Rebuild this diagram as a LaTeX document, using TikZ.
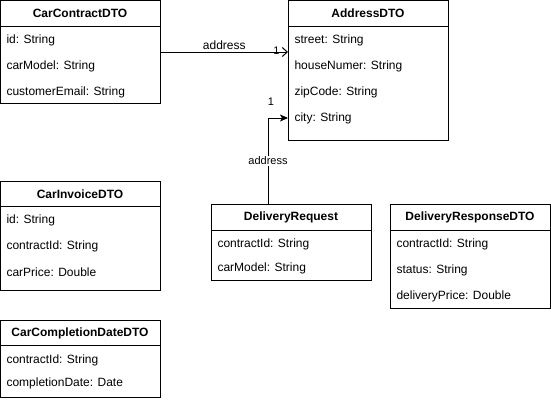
\documentclass[tikz,border=0pt]{standalone}
\usepackage{fontspec}
\setmainfont{Liberation Sans}
\usetikzlibrary{arrows.meta}
\begin{document}
\begin{tikzpicture}[x=1pt,y=-1pt, line width=1pt,
  cls/.style={draw, anchor=north west, minimum width=160pt, inner sep=0pt, outer sep=0pt},
  hdr/.style={font=\fontsize{12}{14}\selectfont\bfseries, anchor=center, inner sep=0pt},
  fld/.style={font=\fontsize{12}{14}\selectfont, anchor=west, inner sep=0pt},
  lbl/.style={font=\fontsize{11}{13}\selectfont, inner sep=1pt}]
\useasboundingbox (0,0) rectangle (551,402);
% CarContractDTO
\node[cls, minimum height=103pt] (cc) at (0.5,0.5) {};
\draw (cc.north west) ++(0,26) -- ++(160,0);
\node[hdr] (cch) at (80,13) {CarContractDTO};
\node[fld] (cc1) at (6,40) {id: String};
\node[fld] (cc2) at (6,66) {carModel: String};
\node[fld] (cc3) at (6,92) {customerEmail: String};
% AddressDTO
\node[cls, minimum height=140pt] (ad) at (288,0.5) {};
\draw (ad.north west) ++(0,26) -- ++(160,0);
\node[hdr] (adh) at (368,13) {AddressDTO};
\node[fld] (ad1) at (294,40) {street: String};
\node[fld] (ad2) at (294,66) {houseNumer: String};
\node[fld] (ad3) at (294,92) {zipCode: String};
\node[fld] (ad4) at (294,118) {city: String};
% CarInvoiceDTO
\node[cls, minimum height=109pt] (ci) at (0.5,181) {};
\draw (ci.north west) ++(0,25) -- ++(160,0);
\node[hdr] (cih) at (80,194) {CarInvoiceDTO};
\node[fld] (ci1) at (6,220) {id: String};
\node[fld] (ci2) at (6,246) {contractId: String};
\node[fld] (ci3) at (6,272) {carPrice: Double};
% CarCompletionDateDTO
\node[cls, minimum height=77pt] (cd) at (0.5,320) {};
\draw (cd.north west) ++(0,25) -- ++(160,0);
\node[hdr] (cdh) at (80,333) {CarCompletionDateDTO};
\node[fld] (cd1) at (6,360) {contractId: String};
\node[fld] (cd2) at (6,383) {completionDate: Date};
% DeliveryRequest
\node[cls, minimum height=76pt] (dr) at (211,204) {};
\draw (dr.north west) ++(0,26) -- ++(160,0);
\node[hdr] (drh) at (291,217) {DeliveryRequest};
\node[fld] (dr1) at (217,244) {contractId: String};
\node[fld] (dr2) at (217,268) {carModel: String};
% DeliveryResponseDTO
\node[cls, minimum height=104pt] (ds) at (390,204) {};
\draw (ds.north west) ++(0,26) -- ++(160,0);
\node[hdr] (dsh) at (470,217) {DeliveryResponseDTO};
\node[fld] (ds1) at (396,244) {contractId: String};
\node[fld] (ds2) at (396,270) {status: String};
\node[fld] (ds3) at (396,296) {deliveryPrice: Double};
% connectors
\draw[-{Straight Barb[length=5pt,width=9pt]}] (cc.east) -- (cc.east -| ad.west)
  node[pos=0.5, anchor=south, font=\fontsize{12}{14}\selectfont, inner sep=2pt] {address}
  node[pos=1, anchor=south east, xshift=-7pt, yshift=-4pt, lbl] {1};
\draw[-{Stealth[length=8pt,width=7pt,inset=2pt]}] ([xshift=-23pt]dr.north) |- (ad.west |- ad4)
  node[pos=0.25, fill=white, lbl] {address}
  node[pos=0.5, anchor=south, xshift=3pt, yshift=11pt, lbl] {1};
\end{tikzpicture}
\end{document}
